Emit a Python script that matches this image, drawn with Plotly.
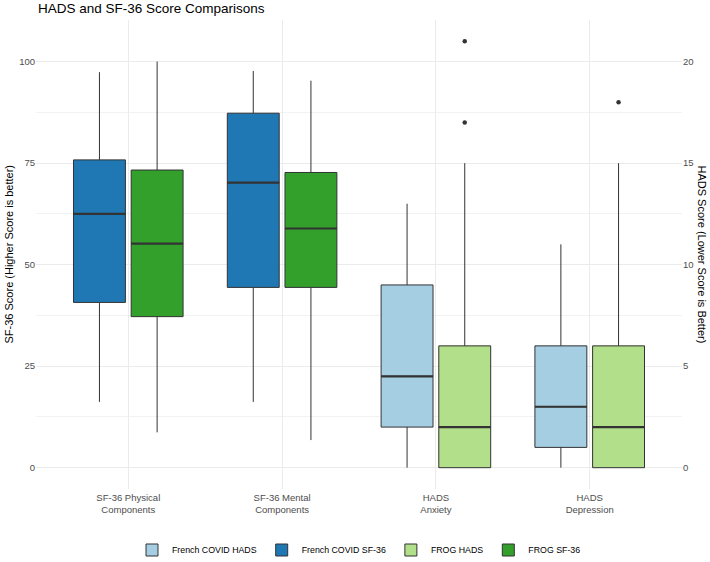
import plotly.graph_objects as go

# ---------------- data ----------------
categories = ["SF-36 Physical Components", "SF-36 Mental Components",
              "HADS Anxiety", "HADS Depression"]
tick_labels = ["SF-36 Physical<br>Components", "SF-36 Mental<br>Components",
               "HADS<br>Anxiety", "HADS<br>Depression"]
sf36_categories = ["SF-36 Physical Components", "SF-36 Mental Components"]
hads_categories = ["HADS Anxiety", "HADS Depression"]

# SF-36 scores (0-100)
french_sf36_q1 = [40.7, 44.4]
french_sf36_median = [62.5, 70.2]
french_sf36_q3 = [75.8, 87.3]
french_sf36_low = [16.2, 16.2]
french_sf36_high = [97.4, 97.7]

frog_sf36_q1 = [37.2, 44.4]
frog_sf36_median = [55.2, 58.9]
frog_sf36_q3 = [73.3, 72.7]
frog_sf36_low = [8.7, 6.8]
frog_sf36_high = [100, 95.3]

# HADS scores (0-21)
french_hads_q1 = [2, 1]
french_hads_median = [4.5, 3]
french_hads_q3 = [9, 6]
french_hads_low = [0, 0]
french_hads_high = [13, 11]

frog_hads_q1 = [0, 0]
frog_hads_median = [2, 2]
frog_hads_q3 = [6, 6]
frog_hads_low = [0, 0]
frog_hads_high = [15, 15]
frog_hads_outliers = [[17, 21], [18]]

hads_to_sf36 = 5  # secondary axis: HADS = SF-36 scale / 5

series_names = ["French COVID HADS", "French COVID SF-36", "FROG HADS", "FROG SF-36"]
colors = ["#A6CEE3", "#1F78B4", "#B2DF8A", "#33A02C"]

FONT = "Liberation Sans, Arial, sans-serif"
EDGE = "#333333"


def scale(vals):
    return [v * hads_to_sf36 for v in vals]


datasets = [
    # name, color, offsetgroup, x, q1, median, q3, low, high, outliers
    (series_names[0], colors[0], "french", hads_categories,
     scale(french_hads_q1), scale(french_hads_median), scale(french_hads_q3),
     scale(french_hads_low), scale(french_hads_high), None),
    (series_names[1], colors[1], "french", sf36_categories,
     french_sf36_q1, french_sf36_median, french_sf36_q3,
     french_sf36_low, french_sf36_high, None),
    (series_names[2], colors[2], "frog", hads_categories,
     scale(frog_hads_q1), scale(frog_hads_median), scale(frog_hads_q3),
     scale(frog_hads_low), scale(frog_hads_high),
     [scale(o) for o in frog_hads_outliers]),
    (series_names[3], colors[3], "frog", sf36_categories,
     frog_sf36_q1, frog_sf36_median, frog_sf36_q3,
     frog_sf36_low, frog_sf36_high, None),
]

fig = go.Figure()

for name, col, grp, xs, q1, med, q3, lo, hi, outs in datasets:
    kw = {}
    if outs is not None:
        kw["y"] = outs
        kw["boxpoints"] = "outliers"
    else:
        kw["boxpoints"] = False
    fig.add_trace(go.Box(
        name=name, x=xs,
        q1=q1, median=med, q3=q3, lowerfence=lo, upperfence=hi,
        jitter=0, pointpos=0,
        marker=dict(color=EDGE, size=4.5, line=dict(width=0)),
        fillcolor=col, line=dict(color=EDGE, width=1),
        offsetgroup=grp, alignmentgroup="all",
        whiskerwidth=0, legendgroup=name, **kw,
    ))

# thicker median lines (ggplot style)
for name, col, grp, xs, q1, med, q3, lo, hi, outs in datasets:
    fig.add_trace(go.Box(
        name=name, x=xs,
        q1=med, median=med, q3=med, lowerfence=med, upperfence=med,
        boxpoints=False, fillcolor="rgba(0,0,0,0)",
        line=dict(color=EDGE, width=2.2),
        offsetgroup=grp, alignmentgroup="all",
        showlegend=False, legendgroup=name, hoverinfo="skip",
    ))

# carrier trace for the secondary (HADS) axis
fig.add_trace(go.Scatter(x=[categories[0]], y=[None], yaxis="y2",
                         mode="markers", showlegend=False, hoverinfo="skip"))

y_range = [-5.25, 110.25]

fig.update_layout(
    width=710, height=562,
    paper_bgcolor="white", plot_bgcolor="white",
    margin=dict(l=36, r=28, t=20, b=73),
    boxmode="group", boxgap=0.25, boxgroupgap=0.1,
    font=dict(family=FONT, color="#4d4d4d"),
    xaxis=dict(
        type="category", categoryorder="array", categoryarray=categories,
        tickmode="array", tickvals=categories, ticktext=tick_labels,
        range=[-0.6, 3.6], showgrid=True, gridcolor="#EBEBEB", gridwidth=1,
        zeroline=False, showline=False, ticks="", ticklabelstandoff=1,
        tickfont=dict(family=FONT, size=9.5, color="#4d4d4d"),
    ),
    yaxis=dict(
        range=y_range, tickmode="array", tickvals=[0, 25, 50, 75, 100],
        showgrid=True, gridcolor="#EBEBEB", gridwidth=1,
        minor=dict(tickmode="array", tickvals=[12.5, 37.5, 62.5, 87.5],
                   showgrid=True, gridcolor="#F2F2F2", gridwidth=1),
        zeroline=False, showline=False, ticks="",
        tickfont=dict(family=FONT, size=9.5, color="#4d4d4d"),
    ),
    yaxis2=dict(
        overlaying="y", side="right",
        range=[v / hads_to_sf36 for v in y_range],
        tickmode="array", tickvals=[0, 5, 10, 15, 20],
        showgrid=False, zeroline=False, showline=False, ticks="",
        tickfont=dict(family=FONT, size=9.5, color="#4d4d4d"),
    ),
    legend=dict(orientation="h", x=0.5, xanchor="center",
                yref="container", y=1 - 550 / 562, yanchor="middle",
                font=dict(family=FONT, size=8.8, color="black"),
                itemwidth=30, traceorder="normal"),
    showlegend=True,
    annotations=[
        dict(text="HADS and SF-36 Score Comparisons",
             xref="paper", yref="paper", x=0, y=1, yshift=12,
             xanchor="left", yanchor="middle", showarrow=False,
             font=dict(family=FONT, size=13.5, color="black")),
        dict(text="SF-36 Score (Higher Score is better)", textangle=-90,
             xref="paper", yref="paper", x=0, y=0.5, xshift=-28,
             xanchor="center", yanchor="middle", showarrow=False,
             font=dict(family=FONT, size=11, color="black")),
        dict(text="HADS Score (Lower Score is Better)", textangle=90,
             xref="paper", yref="paper", x=1, y=0.5, xshift=20,
             xanchor="center", yanchor="middle", showarrow=False,
             font=dict(family=FONT, size=11, color="black")),
    ],
)

fig.write_html("out.html", config={"displayModeBar": False},
               post_script="document.body.style.margin='0px';")
